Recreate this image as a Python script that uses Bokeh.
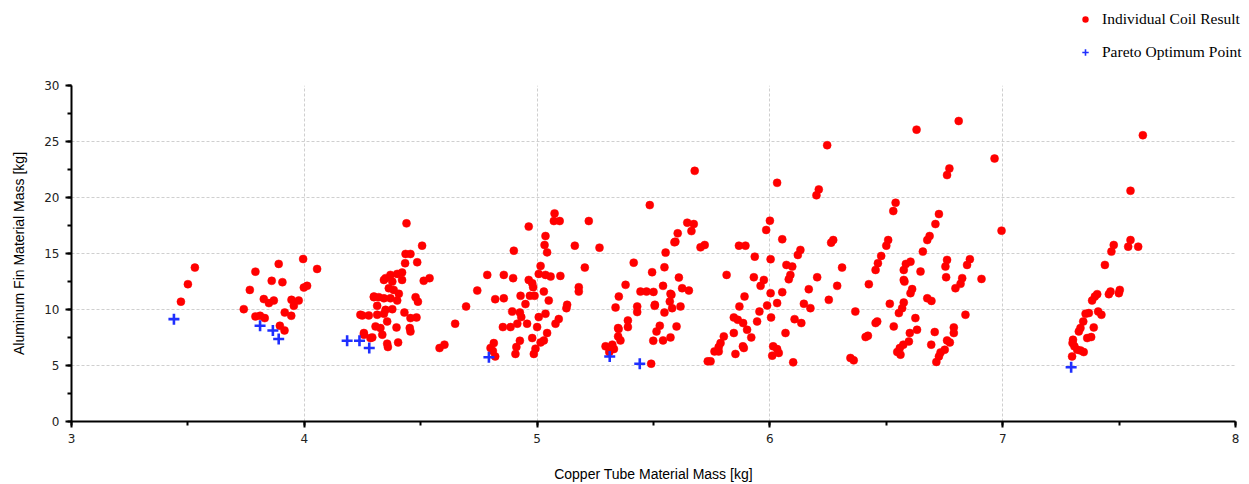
from bokeh.plotting import figure
from bokeh.models import Legend, LegendItem, SingleIntervalTicker, ColumnDataSource, Spacer
from bokeh.layouts import column, row
from bokeh.embed import file_html
from bokeh.resources import INLINE

# Individual coil results (copper mass kg, aluminum mass kg)
red_pts = [
    # group ~3.5
    (3.47, 10.7), (3.50, 12.26), (3.53, 13.74),
    # group ~3.9
    (3.74, 10.03), (3.766, 11.75), (3.79, 13.38), (3.89, 14.07), (3.86, 12.56), (3.906, 12.44),
    (3.826, 10.93), (3.848, 10.57), (3.869, 10.8), (3.79, 9.38), (3.81, 9.44), (3.83, 9.23),
    (3.895, 8.55), (3.915, 8.13), (3.916, 9.73), (3.944, 9.44), (3.945, 10.86), (3.955, 10.33),
    (3.976, 10.8), (3.998, 11.96), (4.012, 12.11), (3.995, 14.51), (4.055, 13.62),
    # group ~4.4
    (4.439, 17.69), (4.506, 15.7), (4.435, 14.96), (4.456, 14.96), (4.433, 14.13), (4.485, 14.22),
    (4.42, 13.3), (4.399, 13.18), (4.37, 13.09), (4.349, 12.8), (4.342, 12.64), (4.42, 12.64),
    (4.378, 12.49), (4.513, 12.56), (4.538, 12.8), (4.363, 11.9), (4.384, 11.75), (4.406, 11.4),
    (4.299, 11.1), (4.32, 11.1), (4.342, 11.0), (4.37, 11.0), (4.399, 10.8), (4.478, 11.1),
    (4.488, 10.7), (4.313, 10.33), (4.349, 9.97), (4.378, 10.03), (4.249, 9.47), (4.277, 9.47),
    (4.313, 9.53), (4.342, 9.62), (4.356, 8.93), (4.43, 9.73), (4.456, 9.23), (4.482, 9.29),
    (4.306, 8.49), (4.327, 8.34), (4.396, 8.4), (4.453, 8.34), (4.456, 8.04), (4.256, 7.75),
    (4.292, 7.51), (4.335, 7.75), (4.403, 7.06), (4.356, 6.95), (4.359, 6.65), (4.284, 7.45),
    (4.256, 7.9), (4.299, 11.16), (4.241, 9.53),
    # between
    (4.581, 6.56), (4.602, 6.86), (4.648, 8.73), (4.695, 10.27), (4.743, 11.69), (4.786, 13.09),
    # group ~5.0
    (4.82, 10.92), (4.857, 11.0), (4.857, 13.09), (4.897, 12.8), (4.9, 15.25), (4.964, 17.4),
    (5.075, 18.58), (5.072, 17.9), (5.097, 17.9), (5.036, 16.56), (5.032, 15.76), (5.043, 15.1),
    (5.015, 13.89), (5.007, 13.18), (5.036, 13.09), (5.058, 12.94), (5.1, 13.0), (4.964, 12.64),
    (4.979, 12.35), (4.983, 11.99), (4.929, 11.22), (4.969, 11.22), (4.989, 11.22), (5.029, 11.6),
    (5.05, 10.8), (4.95, 10.48), (4.893, 9.82), (4.926, 9.73), (4.932, 9.32), (5.007, 9.32),
    (5.036, 9.62), (5.129, 10.42), (5.126, 10.12), (5.093, 9.15), (5.079, 8.73), (5.179, 11.99),
    (5.179, 11.6), (5.205, 13.74), (5.162, 15.7), (5.222, 17.9), (5.268, 15.52), (4.853, 8.43),
    (4.886, 8.43), (4.915, 8.73), (4.957, 8.73), (5.0, 8.43), (5.043, 7.9), (4.926, 7.21),
    (4.979, 7.45), (5.015, 7.06), (5.029, 7.24), (4.911, 6.65), (4.907, 6.03), (4.993, 6.5),
    (4.986, 6.03), (4.814, 7.0), (4.8, 6.56), (4.82, 5.81), (4.81, 6.3),
    # group ~5.5
    (5.49, 5.16), (5.294, 6.71), (5.323, 6.86), (5.33, 6.47), (5.348, 8.34), (5.348, 7.6),
    (5.358, 7.24), (5.39, 9.02), (5.39, 8.43), (5.337, 10.18), (5.351, 11.16), (5.38, 12.2),
    (5.415, 14.18), (5.43, 10.27), (5.43, 9.77), (5.444, 11.6), (5.47, 11.6), (5.5, 11.57),
    (5.505, 10.33), (5.494, 13.33), (5.541, 12.11), (5.547, 13.77), (5.552, 15.08), (5.59, 16.0),
    (5.604, 16.8), (5.609, 12.85), (5.577, 11.31), (5.57, 10.71), (5.58, 10.12), (5.616, 10.27),
    (5.623, 11.9), (5.652, 11.69), (5.547, 9.73), (5.599, 8.49), (5.527, 8.55), (5.513, 8.04),
    (5.541, 7.24), (5.573, 7.51), (5.499, 7.21), (5.484, 19.32), (5.677, 22.38), (5.645, 17.75),
    (5.673, 17.63), (5.663, 17.0), (5.594, 16.06), (5.702, 15.55), (5.72, 15.76), (5.506, 10.42),
    (5.573, 11.4), (5.35, 8.25), (5.31, 6.2),
    # group ~6.0
    (6.031, 21.31), (6.0, 17.93), (5.984, 17.1), (6.053, 16.27), (5.867, 15.7), (5.895, 15.7),
    (5.935, 14.72), (6.003, 14.49), (6.071, 13.98), (6.096, 13.83), (6.131, 15.32), (6.12, 14.87),
    (6.2, 20.2), (6.21, 20.72), (5.814, 13.09), (5.931, 12.88), (5.974, 12.64), (5.96, 12.11),
    (6.088, 13.09), (6.081, 12.7), (6.203, 12.88), (5.891, 11.16), (6.003, 11.46), (6.053, 11.55),
    (6.167, 11.81), (5.869, 10.27), (5.988, 10.36), (6.031, 10.57), (6.146, 10.51), (6.174, 10.12),
    (5.955, 9.82), (6.005, 9.29), (5.845, 9.29), (5.862, 9.08), (5.885, 8.79), (5.945, 8.93),
    (5.902, 8.19), (5.845, 7.9), (5.92, 7.51), (5.802, 7.6), (5.788, 7.0), (5.78, 6.65),
    (5.884, 6.71), (5.888, 6.56), (5.762, 6.26), (5.78, 6.26), (5.733, 5.37), (5.745, 5.37),
    (5.852, 6.03), (6.014, 6.71), (6.031, 6.47), (6.038, 6.12), (6.01, 5.88), (6.067, 7.9),
    (6.106, 9.14), (6.135, 8.79), (6.1, 5.28), (6.246, 24.67), (6.263, 15.97), (6.272, 16.2),
    (6.31, 13.74), (6.289, 12.11), (6.253, 10.86), (6.367, 9.82), (6.346, 5.67), (6.36, 5.46),
    # group ~6.5
    (6.54, 19.53), (6.53, 18.79), (6.508, 16.2), (6.5, 15.7), (6.478, 14.78), (6.464, 14.13),
    (6.454, 13.53), (6.584, 14.07), (6.604, 14.27), (6.575, 13.53), (6.425, 12.26), (6.575, 12.64),
    (6.611, 11.82), (6.604, 11.46), (6.515, 10.51), (6.575, 10.62), (6.568, 10.12), (6.554, 9.68),
    (6.461, 8.93), (6.454, 8.79), (6.532, 8.49), (6.625, 9.23), (6.632, 8.19), (6.421, 7.66),
    (6.411, 7.54), (6.601, 7.9), (6.597, 7.15), (6.573, 6.86), (6.558, 6.56), (6.547, 6.21),
    (6.561, 5.97), (6.63, 26.06), (6.578, 12.49), (6.647, 13.39),
    # group ~6.8
    (6.811, 26.83), (6.965, 23.48), (6.771, 22.59), (6.761, 22.0), (6.726, 18.52), (6.711, 17.63),
    (6.686, 16.56), (6.676, 16.2), (6.995, 17.04), (6.657, 15.17), (6.761, 14.43), (6.754, 13.83),
    (6.757, 12.88), (6.859, 14.49), (6.847, 13.98), (6.909, 12.73), (6.826, 12.8), (6.819, 12.29),
    (6.797, 11.9), (6.676, 11.0), (6.694, 10.77), (6.84, 9.53), (6.79, 8.4), (6.79, 7.9),
    (6.708, 7.99), (6.761, 7.24), (6.773, 7.06), (6.693, 6.86), (6.751, 6.41), (6.733, 6.17),
    (6.726, 5.81), (6.715, 5.32),
    # group ~7.4
    (7.298, 5.81), (7.302, 7.3), (7.3, 7.0), (7.308, 6.71), (7.32, 6.41), (7.334, 6.35),
    (7.348, 6.2), (7.327, 8.04), (7.334, 8.34), (7.346, 8.93), (7.356, 9.62), (7.37, 9.68),
    (7.363, 7.45), (7.38, 7.54), (7.391, 8.4), (7.41, 9.82), (7.424, 9.53), (7.384, 10.8),
    (7.396, 11.16), (7.406, 11.37), (7.456, 11.37), (7.463, 11.6), (7.499, 11.46), (7.503, 11.75),
    (7.439, 13.98), (7.467, 15.17), (7.477, 15.76), (7.539, 15.61), (7.549, 16.2), (7.582, 15.61),
    (7.549, 20.6), (7.602, 25.56),
]
red_x = [p[0] for p in red_pts]
red_y = [p[1] for p in red_pts]

# Pareto optimum points
blue_x = [3.44, 3.81, 3.865, 3.89, 4.184, 4.237, 4.279, 4.793, 5.312, 5.441, 7.294]
blue_y = [9.14, 8.55, 8.13, 7.36, 7.21, 7.21, 6.56, 5.73, 5.81, 5.16, 4.84]

x_label = "Copper Tube Material Mass [kg]"
y_label = "Aluminum Fin Material Mass [kg]"
series_names = ["Individual Coil Result", "Pareto Optimum Point"]

RED = "#ff0000"
BLUE = "#1f2fff"

red_src = ColumnDataSource(dict(x=red_x, y=red_y))
blue_src = ColumnDataSource(dict(x=blue_x, y=blue_y))

# ---- legend strip (top right) ----
# ranges chosen so the shared data fall outside this strip; only the legend shows
top = figure(width=179, height=70, x_range=(100, 200), y_range=(100, 200),
             output_backend="svg", toolbar_location=None,
             x_axis_location=None, y_axis_location=None,
             min_border=0, background_fill_color="white", border_fill_color="white")
top.outline_line_color = None
top.grid.visible = False
lr = top.scatter(x="x", y="y", source=red_src, marker="circle",
                 fill_color=RED, line_color=None)
lb = top.scatter(x="x", y="y", source=blue_src, marker="cross",
                 line_color=BLUE, line_width=1.6)
legend = Legend(items=[LegendItem(label=series_names[0], renderers=[lr]),
                       LegendItem(label=series_names[1], renderers=[lb])],
                location=(7, 8), orientation="vertical",
                label_text_font="Liberation Serif", label_text_font_size="15.5px",
                label_text_color="black",
                glyph_width=16, glyph_height=16, label_height=20, spacing=13,
                label_standoff=9, padding=0, margin=0,
                border_line_color=None, background_fill_alpha=0)
top.add_layout(legend, "center")

# ---- main plot ----
p = figure(width=1249, height=414, x_range=(3, 8), y_range=(0, 30),
           output_backend="svg", toolbar_location=None,
           min_border_left=71, min_border_right=14, min_border_top=15, min_border_bottom=62,
           background_fill_color="white", border_fill_color="white")
p.outline_line_color = None

p.scatter(x="x", y="y", source=red_src,
          marker="circle", size=8, fill_color=RED, line_color=RED, line_width=0.5)
p.scatter(x="x", y="y", source=blue_src,
          marker="cross", size=11, line_color=BLUE, line_width=2.6)

p.xaxis.ticker = SingleIntervalTicker(interval=1, num_minor_ticks=2)
p.yaxis.ticker = SingleIntervalTicker(interval=5, num_minor_ticks=2)
for ax in (p.xaxis, p.yaxis):
    ax.axis_line_width = 2
    ax.axis_line_color = "black"
    ax.major_tick_line_width = 2
    ax.minor_tick_line_width = 2
    ax.major_tick_out = 6
    ax.major_tick_in = 0
    ax.minor_tick_out = 4
    ax.minor_tick_in = 0
    ax.major_label_text_font = "DejaVu Sans"
    ax.major_label_text_font_size = "12px"
    ax.major_label_text_color = "#222222"
    ax.axis_label_text_font = "Liberation Sans"
    ax.axis_label_text_font_size = "14px"
    ax.axis_label_text_font_style = "normal"
    ax.axis_label_text_color = "black"
    ax.major_label_standoff = 6
p.xaxis.axis_label = x_label
p.yaxis.axis_label = y_label
p.xaxis.axis_label_standoff = 20
p.yaxis.axis_label_standoff = 14

for g in (p.xgrid, p.ygrid):
    g.grid_line_color = "#cfcfcf"
    g.grid_line_dash = "3 2"
    g.grid_line_width = 1

layout = column(row(Spacer(width=1070, height=70), top, spacing=0), p, spacing=0)
open("out.html", "w").write(file_html(layout, INLINE))
